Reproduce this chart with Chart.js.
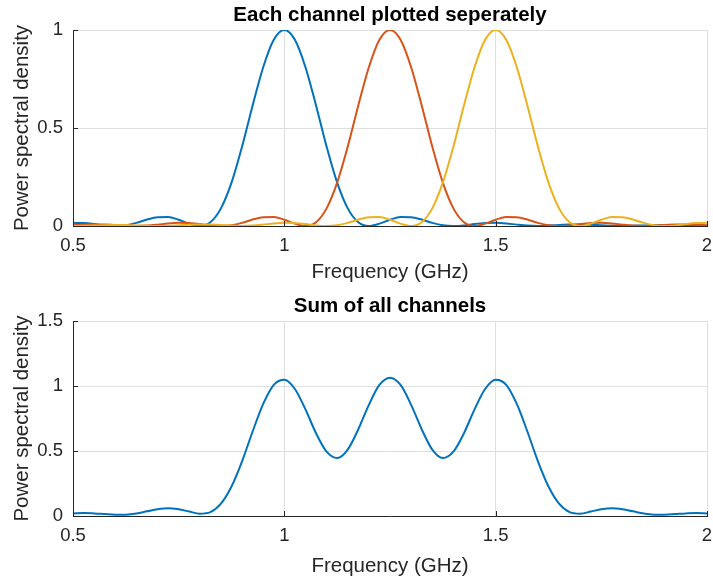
<!DOCTYPE html>
<html>
<head>
  <meta charset="utf-8" />
  <title>Channel PSD</title>
  <script src="https://cdn.jsdelivr.net/npm/chart.js"></script>
  <style>
    body { margin: 0; background: #fff; }
    canvas { display: block; }
  </style>
</head>
<body>
  <canvas id="channels" width="713" height="291"></canvas>
  <canvas id="sum" width="713" height="292"></canvas>

<script>
  // frequency axis (GHz)
  const freq = [0.5, 0.525, 0.55, 0.575, 0.6, 0.625, 0.65, 0.675, 0.7, 0.725, 0.75, 0.775, 0.8, 0.825, 0.85, 0.875, 0.9, 0.925, 0.95, 0.975,
    1, 1.025, 1.05, 1.075, 1.1, 1.125, 1.15, 1.175, 1.2, 1.225, 1.25, 1.275, 1.3, 1.325, 1.35, 1.375, 1.4, 1.425, 1.45, 1.475,
    1.5, 1.525, 1.55, 1.575, 1.6, 1.625, 1.65, 1.675, 1.7, 1.725, 1.75, 1.775, 1.8, 1.825, 1.85, 1.875, 1.9, 1.925, 1.95, 1.975, 2];

  // channel 1 (1 GHz)
  const channel1 = [0.016, 0.015, 0.01, 0.003, 0, 0.004, 0.016, 0.033, 0.045, 0.046, 0.032, 0.012, 0, 0.019, 0.09, 0.221, 0.405, 0.615, 0.81, 0.95,
    1, 0.95, 0.81, 0.615, 0.405, 0.221, 0.09, 0.019, 0, 0.012, 0.032, 0.046, 0.045, 0.033, 0.016, 0.004, 0, 0.003, 0.01, 0.015,
    0.016, 0.013, 0.007, 0.002, 0, 0.002, 0.005, 0.008, 0.008, 0.007, 0.004, 0.001, 0, 0.001, 0.003, 0.0045, 0.005, 0.004, 0.002, 0.001, 0];
  // channel 2 (1.25 GHz)
  const channel2 = [0.004, 0.007, 0.008, 0.008, 0.005, 0.002, 0, 0.002, 0.007, 0.013, 0.016, 0.015, 0.01, 0.003, 0, 0.004, 0.016, 0.033, 0.045, 0.046,
    0.032, 0.012, 0, 0.019, 0.09, 0.221, 0.405, 0.615, 0.81, 0.95, 1, 0.95, 0.81, 0.615, 0.405, 0.221, 0.09, 0.019, 0, 0.012,
    0.032, 0.046, 0.045, 0.033, 0.016, 0.004, 0, 0.003, 0.01, 0.015, 0.016, 0.013, 0.007, 0.002, 0, 0.002, 0.005, 0.008, 0.008, 0.007, 0.004];
  // channel 3 (1.5 GHz)
  const channel3 = [0, 0.001, 0.002, 0.004, 0.005, 0.0045, 0.003, 0.001, 0, 0.001, 0.004, 0.007, 0.008, 0.008, 0.005, 0.002, 0, 0.002, 0.007, 0.013,
    0.016, 0.015, 0.01, 0.003, 0, 0.004, 0.016, 0.033, 0.045, 0.046, 0.032, 0.012, 0, 0.019, 0.09, 0.221, 0.405, 0.615, 0.81, 0.95,
    1, 0.95, 0.81, 0.615, 0.405, 0.221, 0.09, 0.019, 0, 0.012, 0.032, 0.046, 0.045, 0.033, 0.016, 0.004, 0, 0.003, 0.01, 0.015, 0.016];

  // sum of all channels
  const total = [0.02, 0.023, 0.02, 0.015, 0.01, 0.0105, 0.019, 0.036, 0.052, 0.06, 0.052, 0.034, 0.018, 0.03, 0.095, 0.227, 0.421, 0.65, 0.862, 1.009,
    1.048, 0.977, 0.82, 0.637, 0.495, 0.446, 0.511, 0.667, 0.855, 1.008, 1.064, 1.008, 0.855, 0.667, 0.511, 0.446, 0.495, 0.637, 0.82, 0.977,
    1.048, 1.009, 0.862, 0.65, 0.421, 0.227, 0.095, 0.03, 0.018, 0.034, 0.052, 0.06, 0.052, 0.036, 0.019, 0.0105, 0.01, 0.015, 0.02, 0.023, 0.02];

  const xTicks = [0.5, 1, 1.5, 2];

  const FONT = '"Liberation Sans", Arial, sans-serif';
  const TXT = "#262626";
  const GRID = "#dfdfdf";

  Chart.defaults.font.family = FONT;
  Chart.defaults.color = TXT;

  // MATLAB style ticks that point into the axes
  const innerTicks = {
    id: "innerTicks",
    afterDraw(chart) {
      const { ctx, chartArea, scales } = chart;
      ctx.save();
      ctx.strokeStyle = TXT;
      ctx.lineWidth = 1;
      ctx.beginPath();
      scales.x.ticks.forEach((t) => {
        const px = Math.round(scales.x.getPixelForValue(t.value)) + 0.5;
        ctx.moveTo(px, chartArea.bottom);
        ctx.lineTo(px, chartArea.bottom - 5);
      });
      scales.y.ticks.forEach((t) => {
        const py = Math.round(scales.y.getPixelForValue(t.value)) + 0.5;
        ctx.moveTo(chartArea.left, py);
        ctx.lineTo(chartArea.left + 5, py);
      });
      ctx.stroke();
      ctx.restore();
    },
  };

  const plainNumber = (v) => String(Number(v));

  function series(values, color, order) {
    return {
      data: values.map((v, i) => ({ x: freq[i], y: v })),
      borderColor: color,
      borderWidth: 2,
      pointRadius: 0,
      cubicInterpolationMode: "monotone",
      order: order,
    };
  }

  function options(title, yMax, xHeight, xTitlePad) {
    return {
      responsive: false,
      animation: false,
      layout: { padding: { left: 0, right: 0, top: 0, bottom: 0 } },
      plugins: {
        legend: { display: false },
        tooltip: { enabled: false },
        title: {
          display: true,
          text: title,
          fullSize: false,
          color: "#000",
          font: { size: 20.5, weight: "bold" },
          padding: { top: 2.7, bottom: 2.7 },
        },
      },
      scales: {
        x: {
          type: "linear",
          min: 0.5,
          max: 2,
          afterBuildTicks: (scale) => {
            scale.ticks = xTicks.map((v) => ({ value: v }));
          },
          afterFit: (scale) => {
            scale.height = xHeight;
            scale.paddingRight = 6;
          },
          ticks: { font: { size: 18.5 }, padding: 9, maxRotation: 0, callback: plainNumber },
          grid: { color: GRID, drawTicks: false },
          border: { color: TXT, width: 1 },
          title: {
            display: true,
            text: "Frequency (GHz)",
            font: { size: 20.5 },
            padding: { top: 0, bottom: xTitlePad },
          },
        },
        y: {
          min: 0,
          max: yMax,
          ticks: { stepSize: 0.5, font: { size: 18.5 }, padding: 10, callback: plainNumber },
          afterFit: (scale) => {
            scale.width = 73;
          },
          grid: { color: GRID, drawTicks: false },
          border: { color: TXT, width: 1 },
          title: {
            display: true,
            text: "Power spectral density",
            font: { size: 20.5 },
            padding: { top: 9.7, bottom: 0 },
          },
        },
      },
    };
  }

  new Chart(document.getElementById("channels"), {
    type: "line",
    data: {
      datasets: [
        series(channel1, "#0072BD", 2),
        series(channel2, "#D95319", 1),
        series(channel3, "#EDB120", 0),
      ],
    },
    options: options("Each channel plotted seperately", 1, 65, 6.7),
    plugins: [innerTicks],
  });

  new Chart(document.getElementById("sum"), {
    type: "line",
    data: {
      datasets: [series(total, "#0072BD", 0)],
    },
    options: options("Sum of all channels", 1.5, 67, 4.7),
    plugins: [innerTicks],
  });
</script>
</body>
</html>
